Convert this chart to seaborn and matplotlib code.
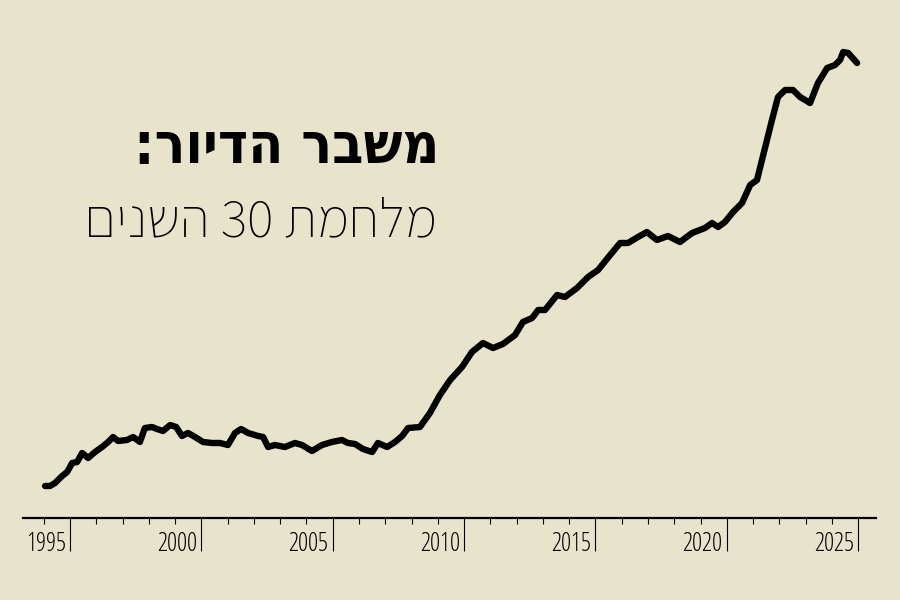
import re
import matplotlib
matplotlib.use("Agg")
import matplotlib.pyplot as plt
import matplotlib.transforms as mtransforms
import pandas as pd
import seaborn as sns

# decimal year, price index (arbitrary units, 0 = axis)
years = [
  1995.05, 1995.24, 1995.43, 1995.70, 1995.89, 1996.08, 1996.27, 1996.46, 1996.69, 1996.95,
  1997.22, 1997.45, 1997.64, 1997.83, 1998.17, 1998.40, 1998.66, 1998.85, 1999.12, 1999.31,
  1999.54, 1999.81, 2000.04, 2000.26, 2000.49, 2000.76, 2001.06, 2001.41, 2001.71, 2002.01,
  2002.28, 2002.51, 2002.78, 2003.16, 2003.35, 2003.54, 2003.80, 2004.18, 2004.56, 2004.83,
  2005.21, 2005.59, 2005.97, 2006.35, 2006.58, 2006.85, 2007.15, 2007.50, 2007.72, 2008.07,
  2008.37, 2008.64, 2008.87, 2009.32, 2009.70, 2010.08, 2010.47, 2010.92, 2011.30, 2011.72,
  2012.10, 2012.48, 2012.94, 2013.24, 2013.59, 2013.82, 2014.08, 2014.54, 2014.84, 2015.30,
  2015.72, 2016.10, 2016.56, 2016.94, 2017.24, 2017.62, 2017.96, 2018.34, 2018.76, 2019.22,
  2019.68, 2020.17, 2020.44, 2020.67, 2020.93, 2021.24, 2021.58, 2021.89, 2022.15, 2022.34,
  2022.53, 2022.72, 2022.95, 2023.22, 2023.52, 2023.79, 2024.17, 2024.47, 2024.82, 2025.12,
  2025.31, 2025.43, 2025.62, 2025.96,
]
index_values = [
  32, 32, 35, 42, 46, 55, 56, 65, 60, 66,
  71, 76, 81, 77, 78, 81, 76, 90, 91, 89,
  87, 93, 91, 82, 85, 81, 76, 75, 75, 73,
  85, 89, 85, 82, 81, 71, 73, 71, 75, 73,
  67, 73, 76, 78, 75, 74, 69, 66, 75, 71,
  76, 82, 90, 91, 105, 123, 138, 151, 166, 175,
  170, 174, 183, 196, 200, 208, 208, 223, 221, 230,
  241, 248, 263, 275, 275, 281, 286, 278, 282, 276,
  285, 290, 295, 291, 296, 306, 315, 333, 338, 358,
  378, 398, 421, 428, 428, 421, 415, 435, 450, 453,
  458, 466, 465, 455,
]
major_ticks = list(range(1996, 2027, 5))
major_labels = [str(y - 1) for y in major_ticks]
minor_ticks = [y for y in range(1995, 2026) if y not in major_ticks]

title = "משבר הדיור:"
subtitle = "מלחמת 30 השנים"

BG = "#e8e4cc"


def visual(s: str) -> str:
  # matplotlib has no bidi: flip the Hebrew, keep digit runs as they are
  return "".join(reversed(re.findall(r"\d+|\D", s)))


df = pd.DataFrame({"year": years, "index": index_values})

sns.set_theme(style="white", rc={"axes.facecolor": BG, "figure.facecolor": BG})

fig = plt.figure(figsize=(9, 6), dpi=100)
ax = fig.add_axes([23 / 900, 1 - 518 / 600, 853 / 900, 488 / 600])

sns.lineplot(data=df, x="year", y="index", color="black", linewidth=4.6, ax=ax,
             solid_capstyle="round", solid_joinstyle="round")

ax.set_xlim(1994.21, 2026.68)
ax.set_ylim(0, 488)
ax.set_xlabel("")
ax.set_ylabel("")
ax.set_yticks([])
for s in ("top", "right", "left"):
  ax.spines[s].set_visible(False)
ax.spines["bottom"].set_color("black")
ax.spines["bottom"].set_linewidth(1.6)

ax.set_xticks(major_ticks)
ax.set_xticklabels(major_labels)
ax.set_xticks(minor_ticks, minor=True)
ax.tick_params(axis="x", which="major", direction="out", length=24, width=0.8,
               color="black", pad=-14, labelsize=18, labelcolor="black", bottom=True)
ax.tick_params(axis="x", which="minor", direction="out", length=4, width=0.8,
               color="black", bottom=True)
# year label sits to the left of its tick
shift = mtransforms.ScaledTranslation(-3 / 72, 0, fig.dpi_scale_trans)
for lab in ax.get_xticklabels():
  lab.set_family(["Open Sans", "DejaVu Sans"])
  lab.set_fontstretch("condensed")
  lab.set_fontweight(500)
  lab.set_horizontalalignment("right")
  lab.set_transform(lab.get_transform() + shift)

fig.text(439 / 900, 1 - 163 / 600, visual(title), ha="right", va="baseline",
         fontsize=41, fontweight="bold", fontstretch="condensed",
         family=["DejaVu Sans"], color="black")
fig.text(437 / 900, 1 - 237 / 600, visual(subtitle), ha="right", va="baseline",
         fontsize=40, family=["Assistant", "DejaVu Sans"], color="black")

fig.savefig("out.png", dpi=100, facecolor=BG)
